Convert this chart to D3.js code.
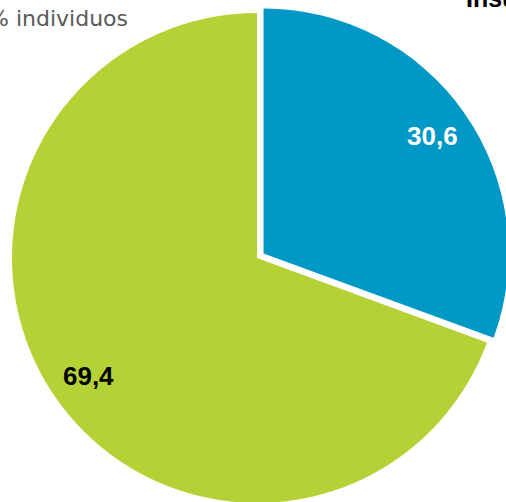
<!DOCTYPE html>
<html>
<head>
<meta charset="utf-8">
<script src="https://cdn.jsdelivr.net/npm/d3@7"></script>
<style>
  html, body { margin: 0; padding: 0; background: #fff; }
  svg { display: block; }
</style>
</head>
<body>
<div id="chart"></div>
<script>
// Share of individuals by category (%)
const categories = ["Insuficiente", "Resto"];
const values = [30.6, 69.4];
const valueLabels = ["30,6", "69,4"];
const sliceColors = ["#0098c4", "#b4d235"];
const labelColors = ["#ffffff", "#000000"];
const explode = [8, 0];

const width = 506, height = 502;
const cx = 257, cy = 258, radius = 245;

const svg = d3.select("#chart").append("svg")
  .attr("width", width)
  .attr("height", height);

const pie = d3.pie().sort(null).value(d => d.value);
const arcs = pie(categories.map((c, i) => ({ name: c, value: values[i], idx: i })));

const arc = d3.arc().innerRadius(0).outerRadius(radius);
const labelArc = d3.arc().innerRadius(radius * 0.84).outerRadius(radius * 0.84);

const g = svg.append("g").attr("transform", `translate(${cx},${cy})`);

const slice = g.selectAll("g.slice")
  .data(arcs)
  .join("g")
  .attr("class", "slice")
  .attr("transform", d => {
    const a = (d.startAngle + d.endAngle) / 2;
    const off = explode[d.data.idx];
    return `translate(${off * Math.sin(a)},${-off * Math.cos(a)})`;
  });

slice.append("path")
  .attr("d", arc)
  .attr("fill", d => sliceColors[d.data.idx]);

slice.append("text")
  .attr("transform", d => `translate(${labelArc.centroid(d)})`)
  .attr("text-anchor", "middle")
  .attr("dy", "0.36em")
  .attr("font-family", "'Liberation Sans', Arial, sans-serif")
  .attr("font-weight", "bold")
  .attr("font-size", 26)
  .attr("fill", d => labelColors[d.data.idx])
  .text(d => valueLabels[d.data.idx]);

// Unit caption
svg.append("text")
  .attr("x", 128)
  .attr("y", 26)
  .attr("text-anchor", "end")
  .attr("font-family", "'DejaVu Sans', Verdana, sans-serif")
  .attr("font-size", 22)
  .attr("fill", "#595959")
  .text("% individuos");

// Legend heading
svg.append("text")
  .attr("x", 466)
  .attr("y", 7)
  .attr("font-family", "'Liberation Sans', Arial, sans-serif")
  .attr("font-weight", "bold")
  .attr("font-size", 25)
  .attr("fill", "#000")
  .text(categories[0]);
</script>
</body>
</html>
